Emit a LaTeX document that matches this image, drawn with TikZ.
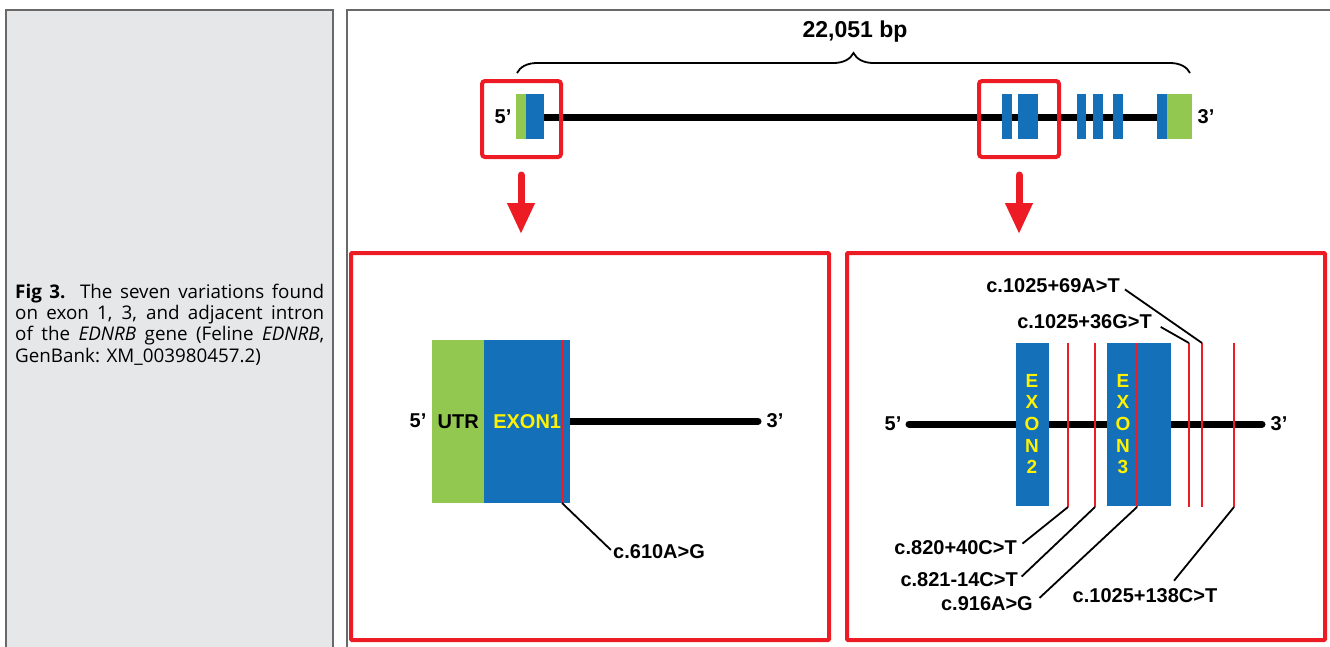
\documentclass[tikz,border=0pt]{standalone}
\usepackage{fontspec}
\setmainfont{Liberation Sans}
\newfontfamily\capfont{Open Sans}
\usepackage{tikz}
\usetikzlibrary{arrows.meta, decorations.pathreplacing}
\usepackage{xcolor}

\definecolor{exonblue}{RGB}{19,112,185}
\definecolor{utrgreen}{RGB}{146,200,80}
\definecolor{snpred}{RGB}{237,28,36}
\definecolor{exonyellow}{RGB}{255,242,0}
\definecolor{panelgray}{RGB}{230,231,232}
\definecolor{framegray}{RGB}{105,105,105}

\begin{document}
\begin{tikzpicture}[x=1pt, y=-1pt,
    exon/.style={fill=exonblue, inner sep=0pt, anchor=north west},
    utr/.style={fill=utrgreen, inner sep=0pt, anchor=north west},
    gene/.style={line width=7pt, black},
    zoombox/.style={draw=snpred, line width=4pt, rounded corners=3pt},
    panel/.style={draw=snpred, line width=4pt, rounded corners=1pt},
    snp/.style={draw=snpred, line width=2pt},
    leader/.style={line width=1.8pt, black},
    lbl/.style={font=\fontsize{20}{22}\selectfont\bfseries, inner sep=0pt},
    vlbl/.style={font=\fontsize{19}{21.7}\selectfont\bfseries, text=exonyellow, align=center, inner sep=0pt},
    zoomarrow/.style={draw=snpred, line width=7pt, line cap=round, -{Triangle[width=26pt, length=31pt]}}
]
    \useasboundingbox (0,0) rectangle (1330,646);

    % caption column and frame of the figure
    \fill[panelgray] (6,10) rectangle (333,650);
    \draw[framegray, line width=1.5pt] (6,650) -- (6,10) -- (333,10) -- (333,650);
    \draw[framegray, line width=1.5pt] (347,650) -- (347,10) -- (1335,10);
    \node[font=\capfont\fontsize{18.8}{21.2}\selectfont, text width=309pt, align=justify,
          anchor=north west, inner sep=0pt] (caption) at (15,284)
        {\textbf{Fig 3.} The seven variations found\linebreak
         on exon 1, 3, and adjacent intron\linebreak
         of the \textit{EDNRB} gene (Feline \textit{EDNRB},\linebreak
         GenBank: XM\_003980457.2)};

    % whole gene
    \node[lbl, font=\fontsize{23}{26}\selectfont\bfseries] (size) at (855,32) {22,051 bp};
    \coordinate (brl) at (517,73);
    \coordinate (brr) at (1190,73);
    \draw[line width=1.8pt, decorate, decoration={brace, amplitude=20pt}] (brl) -- (brr);

    \coordinate (ga) at (540,117);
    \coordinate (gb) at (1160,117);
    \draw[gene] (ga) -- (gb);

    \node[utr, minimum width=10pt, minimum height=45pt] (g5utr) at (516,94) {};
    \node[exon, minimum width=18pt, minimum height=45pt] (gex1) at (526,94) {};
    \node[exon, minimum width=10pt, minimum height=45pt] (gex2) at (1002,94) {};
    \node[exon, minimum width=20pt, minimum height=45pt] (gex3) at (1018,94) {};
    \node[exon, minimum width=9pt, minimum height=45pt] (gex4) at (1077,94) {};
    \node[exon, minimum width=10pt, minimum height=45pt] (gex5) at (1093,94) {};
    \node[exon, minimum width=10pt, minimum height=45pt] (gex6) at (1113,94) {};
    \node[exon, minimum width=10pt, minimum height=45pt] (gex7) at (1157,94) {};
    \node[utr, minimum width=25pt, minimum height=45pt] (g3utr) at (1167,94) {};
    \node[lbl] (t5top) at (503,117) {5’};
    \node[lbl] (t3top) at (1206,117) {3’};

    \draw[zoombox] (482,81) rectangle (561,157);
    \draw[zoombox] (979,81) rectangle (1059,157);

    \coordinate (ar1s) at (521,175);
    \coordinate (ar1e) at (521,234);
    \coordinate (ar2s) at (1019,175);
    \coordinate (ar2e) at (1019,234);
    \draw[zoomarrow] (ar1s) -- (ar1e);
    \draw[zoomarrow] (ar2s) -- (ar2e);

    % exon 1 close-up
    \draw[panel] (351,253) rectangle (829,640);
    \coordinate (p1a) at (570,421);
    \coordinate (p1b) at (758,421);
    \draw[gene, line cap=round] (p1a) -- (p1b);
    \node[utr, minimum width=52pt, minimum height=163pt, lbl] (utr1) at (432,340) {UTR};
    \node[exon, minimum width=86pt, minimum height=163pt, lbl, text=exonyellow] (ex1) at (484,340) {EXON1};
    \node[lbl] (t5a) at (418,421) {5’};
    \node[lbl] (t3a) at (775,421) {3’};

    \coordinate (m610t) at (562,340);
    \coordinate (m610b) at (562,503);
    \draw[snp] (m610t) -- (m610b);
    \node[lbl, anchor=west] (l610) at (613,552) {c.610A>G};
    \draw[leader, shorten >=3pt] (m610b) -- (l610.west);

    % exon 2 and exon 3 close-up
    \draw[panel] (847,253) rectangle (1325,640);
    \coordinate (p2a) at (909,424);
    \coordinate (p2b) at (1262,424);
    \draw[gene, line cap=round] (p2a) -- (p2b);
    \node[exon, minimum width=33pt, minimum height=163pt] (ex2) at (1016,343) {};
    \node[exon, minimum width=64pt, minimum height=163pt] (ex3) at (1107,343) {};
    \node[vlbl] (ex2txt) at (1032,424) {E\\X\\O\\N\\2};
    \node[vlbl] (ex3txt) at (1123,424) {E\\X\\O\\N\\3};
    \node[lbl] (t5b) at (893,424) {5’};
    \node[lbl] (t3b) at (1279,424) {3’};

    \coordinate (s1t) at (1068,343);
    \coordinate (s1b) at (1068,507);
    \coordinate (s2t) at (1095,343);
    \coordinate (s2b) at (1095,507);
    \coordinate (s3t) at (1137,343);
    \coordinate (s3b) at (1137,507);
    \coordinate (s4t) at (1189,343);
    \coordinate (s4b) at (1189,507);
    \coordinate (s5t) at (1202,343);
    \coordinate (s5b) at (1202,507);
    \coordinate (s6t) at (1234,343);
    \coordinate (s6b) at (1234,507);
    \draw[snp] (s1t) -- (s1b);
    \draw[snp] (s2t) -- (s2b);
    \draw[snp] (s3t) -- (s3b);
    \draw[snp] (s4t) -- (s4b);
    \draw[snp] (s5t) -- (s5b);
    \draw[snp] (s6t) -- (s6b);

    \node[lbl, anchor=east] (l69) at (1120,286) {c.1025+69A>T};
    \node[lbl, anchor=east] (l36) at (1152,322) {c.1025+36G>T};
    \node[lbl, anchor=east] (l820) at (1017,548) {c.820+40C>T};
    \node[lbl, anchor=east] (l821) at (1018,580) {c.821-14C>T};
    \node[lbl, anchor=east] (l916) at (1033,604) {c.916A>G};
    \node[lbl] (l138) at (1145,596) {c.1025+138C>T};

    \draw[leader, shorten <=6pt] (l69.east) -- (s5t);
    \draw[leader, shorten <=10pt] (l36.east) -- (s4t);
    \draw[leader, shorten <=7pt] (l820.east) -- (s1b);
    \draw[leader, shorten <=5pt] (l821.east) -- (s2b);
    \draw[leader, shorten <=9pt] (l916.east) -- (s3b);
    \draw[leader] (l138.north) ++(29,-8) -- (s6b);
\end{tikzpicture}
\end{document}
